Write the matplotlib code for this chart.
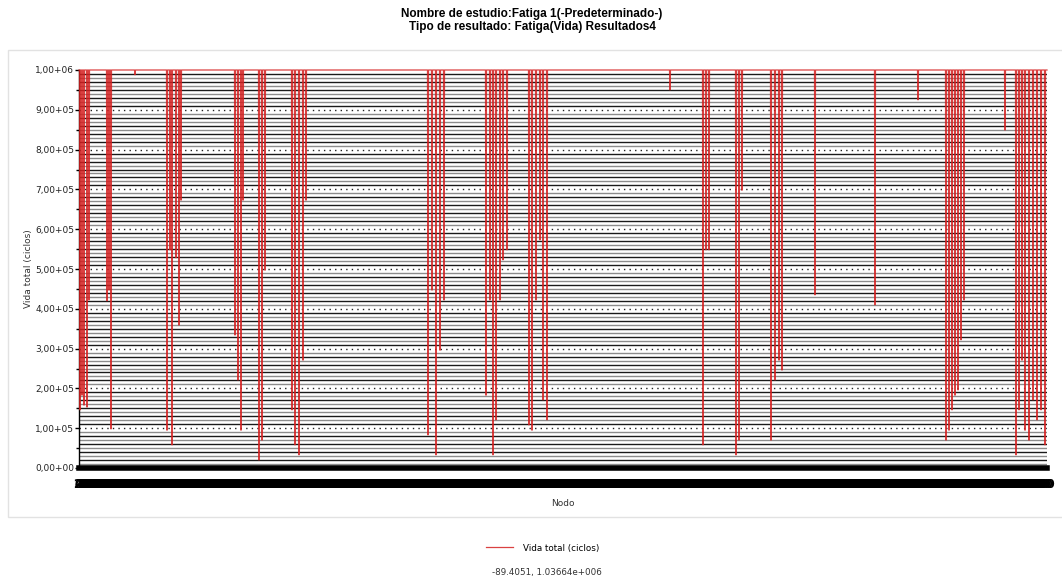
import numpy as np
import matplotlib
matplotlib.use("Agg")
import matplotlib.pyplot as plt
from matplotlib.patches import Rectangle
from matplotlib.ticker import FixedLocator

# --- data: fatigue life per node (plateau = 1e6 cycles, dips listed) ---
n_nodes = 9680
life_cap = 1.0e6

dip_nodes = [10, 30, 50, 80, 100, 280, 300, 320, 560,
             880, 910, 930, 970, 1000, 1020,
             1560, 1590, 1620, 1640,
             1800, 1830, 1860,
             2130, 2160, 2200, 2240, 2270,
             3490, 3530, 3570, 3610, 3650,
             4070, 4110, 4140, 4170, 4210, 4240, 4280,
             4500, 4530, 4570, 4610, 4640, 4680,
             5910,
             6240, 6270, 6300,
             6570, 6600, 6630,
             6920, 6960, 7000, 7030,
             7360, 7960, 8390,
             8670, 8700, 8730, 8760, 8790, 8820, 8850,
             9260,
             9370, 9400, 9430, 9460, 9500, 9540, 9580, 9620, 9660]

dip_life = [146e3, 183e3, 158e3, 153e3, 422e3, 420e3, 447e3, 98e3, 988e3,
            95e3, 548e3, 58e3, 528e3, 359e3, 673e3,
            334e3, 221e3, 95e3, 673e3,
            20e3, 70e3, 497e3,
            146e3, 58e3, 33e3, 271e3, 673e3,
            83e3, 447e3, 33e3, 296e3, 422e3,
            183e3, 422e3, 33e3, 121e3, 422e3, 523e3, 548e3,
            108e3, 95e3, 422e3, 573e3, 171e3, 121e3,
            950e3,
            58e3, 548e3, 548e3,
            33e3, 70e3, 698e3,
            70e3, 221e3, 271e3, 246e3,
            435e3, 410e3, 925e3,
            70e3, 95e3, 146e3, 183e3, 196e3, 322e3, 422e3,
            849e3,
            33e3, 146e3, 271e3, 95e3, 70e3, 171e3, 121e3, 146e3, 58e3]

y_major = np.arange(0, 1.0e6 + 1, 1.0e5)
y_minor = np.arange(5.0e4, 1.0e6, 1.0e5)
y_labels = ["0,00+00", "1,00+05", "2,00+05", "3,00+05", "4,00+05", "5,00+05",
            "6,00+05", "7,00+05", "8,00+05", "9,00+05", "1,00+06"]
band_levels = [v for v in np.arange(1.0e4, 1.0e6, 1.0e4) if round(v) % 100000 != 0]
node_ticks = np.arange(0, 9600 + 1, 20)

# --- build the polyline: plateau between dips, vertical drops at each dip ---
xs = [0]
ys = [life_cap]
for nd, lf in zip(dip_nodes, dip_life):
    xs += [nd - 5, nd, nd + 5]
    ys += [life_cap, lf, life_cap]
xs.append(n_nodes)
ys.append(life_cap)

fig = plt.figure(figsize=(10.62, 5.86), dpi=100)
fig.patch.set_facecolor("white")

# light panel frame around the chart
fig.add_artist(Rectangle((8 / 1062, 1 - 517 / 586), 1.0, (517 - 50) / 586,
                         transform=fig.transFigure, facecolor="white",
                         edgecolor="#e2e2e2", lw=1.0, zorder=0))

ax = fig.add_axes([79 / 1062, 1 - 468 / 586, (1047 - 79) / 1062, (468 - 70) / 586])
ax.set_facecolor("white")
ax.set_xlim(0, n_nodes)
ax.set_ylim(0, 1.0e6)

# horizontal band lines, alternating gray and black
for i, lv in enumerate(band_levels):
    ax.axhline(lv, color="#8c8c8c" if i % 2 == 0 else "#1a1a1a", lw=1.0, zorder=1)
# dotted grid at the major ticks
for lv in y_major[1:-1]:
    ax.axhline(lv, color="#202020", lw=1.0, ls=(0, (1, 3)), zorder=1.5)
ax.axhline(0, color="black", lw=4.0, zorder=2, clip_on=False)

line, = ax.plot(xs, ys, color="#d42020", lw=0.9, alpha=0.85, zorder=3,
                clip_on=False, label="Vida total (ciclos)")

for s in ["top", "right", "bottom"]:
    ax.spines[s].set_visible(False)
ax.spines["left"].set_color("black")
ax.spines["left"].set_linewidth(1.0)

ax.yaxis.set_major_locator(FixedLocator(y_major))
ax.yaxis.set_minor_locator(FixedLocator(y_minor))
ax.set_yticklabels(y_labels, fontsize=6.5, family="DejaVu Sans", color="#222222")
ax.tick_params(axis="y", which="major", length=3, width=1, direction="out", pad=0.5)
ax.tick_params(axis="y", which="minor", length=2.5, width=1, direction="out")

# node numbers are printed at every tick and run together into a solid strip
ax.set_xticks(node_ticks)
ax.set_xticklabels([str(v) for v in node_ticks], fontsize=8.5, fontweight="bold",
                   family="DejaVu Sans", color="black")
ax.tick_params(axis="x", length=0, pad=7)

ax.set_ylabel("Vida total (ciclos)", fontsize=6.5, family="DejaVu Sans", color="#333333", labelpad=1.5)
ax.set_xlabel("Nodo", fontsize=6.5, family="DejaVu Sans", color="#333333", labelpad=6)

fig.text(532 / 1062, 1 - 14 / 586, "Nombre de estudio:Fatiga 1(-Predeterminado-)",
         ha="center", va="center", fontsize=8.5, fontweight="bold", family="Liberation Sans")
fig.text(532 / 1062, 1 - 27 / 586, "Tipo de resultado: Fatiga(Vida) Resultados4",
         ha="center", va="center", fontsize=8.5, fontweight="bold", family="Liberation Sans")

fig.legend(handles=[line], loc="center", bbox_to_anchor=(543 / 1062, 1 - 548 / 586),
           frameon=False, handlelength=3.0, handletextpad=1.2,
           prop={"family": "DejaVu Sans", "size": 6.3})
fig.text(547 / 1062, 1 - 573 / 586, "-89.4051, 1.03664e+006", ha="center", va="center",
         fontsize=6.3, family="DejaVu Sans", color="#333333")

fig.savefig("out.png", dpi=100, facecolor="white")
